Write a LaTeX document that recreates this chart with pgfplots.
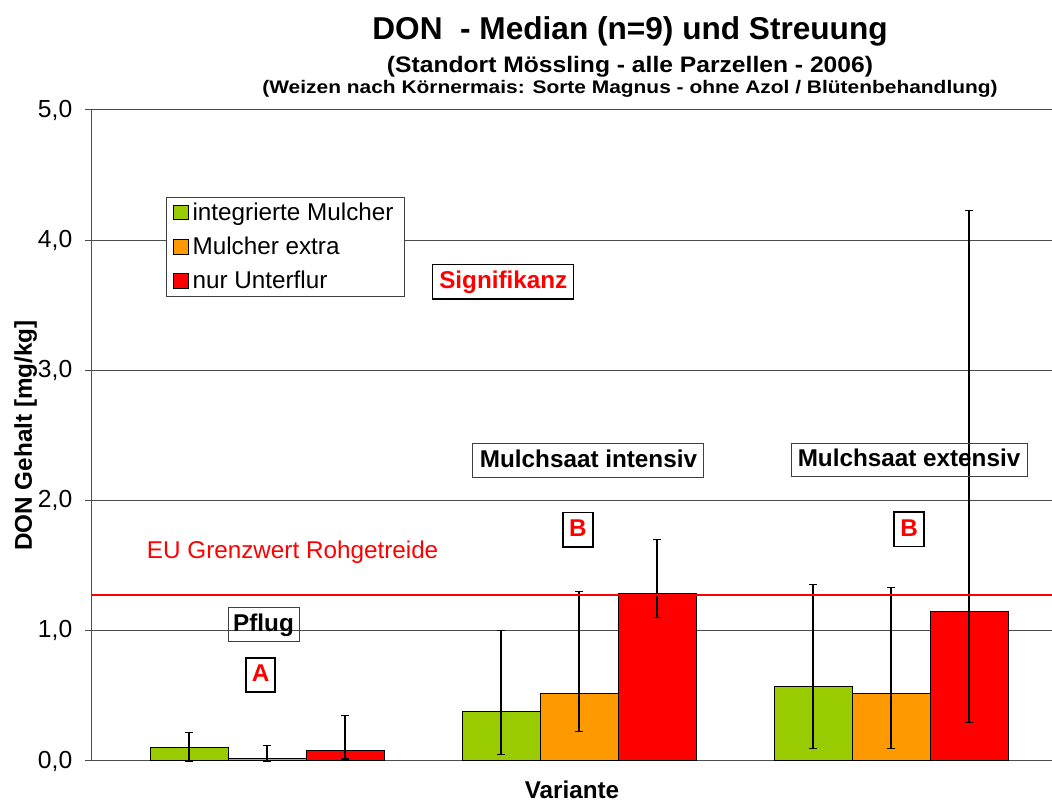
\documentclass[border=0pt]{standalone}
\usepackage{pgfplots}
\pgfplotsset{compat=1.18}
\usepackage{pgfplotstable}
\usepackage{fontspec}
\setmainfont{Liberation Sans}
\newfontfamily\subfont[FakeStretch=1.1]{Liberation Sans}
\newfontfamily\thirdfont[FakeStretch=1.15]{Liberation Sans}
\definecolor{cgreen}{HTML}{99CC00}
\definecolor{corange}{HTML}{FF9900}
\definecolor{cred}{HTML}{FF0000}
\newcommand{\fs}{\fontsize{18.2pt}{21.8pt}\selectfont}

\pgfplotstableread{
x y ep em
-0.25 0.10 0.12 0.10
0.75 0.38 0.62 0.33
1.75 0.574 0.782 0.476
}\greendata
\pgfplotstableread{
x y ep em
0 0.02 0.10 0.02
1 0.52 0.78 0.295
2 0.52 0.813 0.422
}\orangedata
\pgfplotstableread{
x y ep em
0.25 0.08 0.27 0.065
1.25 1.29 0.41 0.19
2.25 1.152 3.076 0.855
}\reddata

\pgfplotsset{errstyle/.style={
  error bars/y dir=both, error bars/y explicit,
  error bars/error bar style={black, line width=0.9pt},
  error bars/error mark options={black, line width=0.9pt, mark size=3pt, rotate=90}}}

\begin{document}
\begin{tikzpicture}
\useasboundingbox (0,0) rectangle (789pt,601.5pt);
\begin{axis}[
  at={(69pt,30.75pt)}, anchor=south west,
  scale only axis, width=720pt, height=488.25pt,
  xmin=-0.5609, xmax=2.5160, ymin=0, ymax=5,
  ytick={0,1,2,3,4,5}, xtick=\empty,
  ymajorgrids, grid style={black!70, line width=0.75pt},
  axis lines*=left, axis line style={black!70, line width=0.75pt},
  tick align=outside, major tick length=5.25pt,
  tick style={black!70, line width=0.75pt},
  yticklabel={\pgfmathprintnumber[fixed,fixed zerofill,precision=1,use comma,assume math mode=true]{\tick}},
  tick label style={font=\fontsize{18.5pt}{22pt}\selectfont},
  yticklabel style={xshift=-6pt},
  ylabel={DON Gehalt [mg/kg]},
  ylabel style={font=\bfseries\fs, at={(rel axis cs:-0.0625,0.5)}, anchor=base},
  xlabel={Variante},
  xlabel style={font=\bfseries\fs, at={(rel axis cs:0.5,0)}, anchor=base, yshift=-27.8pt, inner sep=0pt},
  ybar, bar width=0.25, bar shift=0pt,
  clip=false,
  legend image code/.code={\draw[#1, draw=black, line width=0.75pt] (0pt,-5.4pt) rectangle (10.8pt,5.4pt);},
  legend cell align=left,
  legend style={font=\fs, draw=black!75, fill=white, line width=0.75pt,
    at={(rel axis cs:0.0771,0.8664)}, anchor=north west,
    inner xsep=5pt, inner ysep=2pt, row sep=7pt,
    nodes={inner xsep=3pt, inner ysep=2pt},
    /tikz/every even column/.append style={column sep=4pt}},
]
\addplot[fill=cgreen, draw=black, line width=0.75pt, errstyle] table[x=x, y=y, y error plus=ep, y error minus=em] {\greendata};
\addlegendentry{integrierte Mulcher}
\addplot[fill=corange, draw=black, line width=0.75pt, errstyle] table[x=x, y=y, y error plus=ep, y error minus=em] {\orangedata};
\addlegendentry{Mulcher extra}
\addplot[fill=cred, draw=black, line width=0.75pt, errstyle] table[x=x, y=y, y error plus=ep, y error minus=em] {\reddata};
\addlegendentry{nur Unterflur}
\addplot[sharp plot, red, line width=1.2pt, forget plot, no markers] coordinates {(-0.5609,1.275) (2.516,1.275)};

\tikzset{lbox/.style={draw=black!75, line width=0.75pt, font=\bfseries\fs, inner sep=0pt, minimum height=25pt, text height=13.2pt, text depth=3pt}}
\node[lbox, draw=black, line width=1pt, text=red, minimum width=105.75pt, minimum height=26pt] at (axis cs:0.7574,3.681) {Signifikanz};
\node[lbox, minimum width=173.25pt] at (axis cs:1.0304,2.308) {Mulchsaat intensiv};
\node[lbox, minimum width=177pt] at (axis cs:2.0577,2.313) {Mulchsaat extensiv};
\node[lbox, minimum width=53.25pt] at (axis cs:-0.0112,1.048) {Pflug};
\node[lbox, draw=black, line width=1pt, text=red, minimum width=21.75pt, minimum height=25.5pt] at (axis cs:-0.0208,0.6605) {A};
\node[lbox, draw=black, line width=1pt, text=red, minimum width=22.5pt, minimum height=26pt] at (axis cs:0.9968,1.778) {B};
\node[lbox, draw=black, line width=1pt, text=red, minimum width=22.5pt, minimum height=26pt] at (axis cs:2.0577,1.780) {B};
\node[anchor=base west, text=red, font=\fs, inner sep=0pt] at (axis cs:-0.3856,1.557) {EU Grenzwert Rohgetreide};
\end{axis}
\node[anchor=base, font=\bfseries\fontsize{23.7pt}{28pt}\selectfont] at (472.5pt,571.5pt) {DON\ \ - Median (n=9) und Streuung};
\node[anchor=base, font=\subfont\bfseries\fontsize{16.8pt}{20pt}\selectfont] at (472.5pt,547pt) {(Standort Mössling - alle Parzellen - 2006)};
\node[anchor=base, font=\thirdfont\bfseries\fontsize{13.65pt}{16pt}\selectfont] at (472.5pt,531.5pt) {(Weizen nach Körnermais: Sorte Magnus - ohne Azol / Blütenbehandlung)};
\end{tikzpicture}
\end{document}
